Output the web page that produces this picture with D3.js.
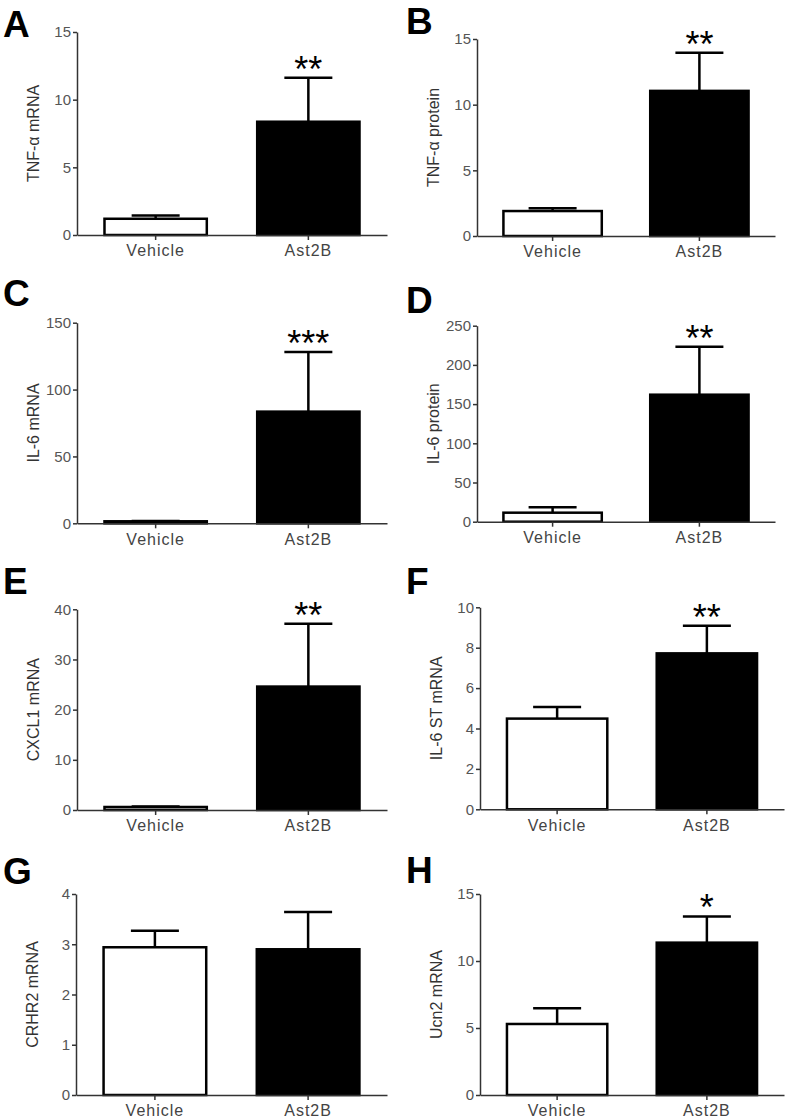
<!DOCTYPE html>
<html>
<head>
<meta charset="utf-8">
<script src="https://cdn.jsdelivr.net/npm/d3@7"></script>
<style>
  html, body { margin: 0; padding: 0; background: #fff; }
  svg { display: block; }
</style>
</head>
<body>
<svg id="chart" width="788" height="1119"></svg>
<script>
// ---- Data ----
const panelLetters = ["A", "B", "C", "D", "E", "F", "G", "H"];
const groups = ["Vehicle", "Ast2B"];
const yLabels = ["TNF-\u03B1 mRNA", "TNF-\u03B1 protein", "IL-6 mRNA", "IL-6 protein",
                 "CXCL1 mRNA", "IL-6 ST mRNA", "CRHR2 mRNA", "Ucn2 mRNA"];
const vehicleMean = [1.2, 1.9, 1.5, 11.5, 0.6, 4.49, 2.94, 5.3];
const vehicleErr  = [0.25, 0.22, 0.3, 7.0, 0.1, 0.58, 0.33, 1.17];
const ast2bMean   = [8.37, 11.05, 83.5, 162, 24.6, 7.72, 2.9, 11.37];
const ast2bErr    = [3.25, 2.9, 44.5, 61, 12.5, 1.37, 0.74, 1.96];
const yMax        = [15, 15, 150, 250, 40, 10, 4, 15];
const yTickStep   = [5, 5, 50, 50, 10, 2, 1, 5];
const stars       = ["**", "**", "***", "**", "**", "**", "", "*"];

// ---- Layout (positions only) ----
const layout = [
  {x0: 77,  x1: 387, top: 32,    bottom: 235,   lx: 3,   ly: 37},
  {x0: 477, x1: 775, top: 39,    bottom: 236,   lx: 406, ly: 34},
  {x0: 77,  x1: 387, top: 322.7, bottom: 523.3, lx: 3,   ly: 306},
  {x0: 477, x1: 775, top: 325.7, bottom: 521.7, lx: 406, ly: 313},
  {x0: 77,  x1: 387, top: 609.3, bottom: 810,   lx: 3,   ly: 594},
  {x0: 480, x1: 784, top: 607.3, bottom: 809.3, lx: 406, ly: 594},
  {x0: 76,  x1: 387, top: 894,   bottom: 1095,  lx: 3,   ly: 884},
  {x0: 480, x1: 784, top: 894,   bottom: 1095,  lx: 406, ly: 883}
];

const svg = d3.select("#chart");
const FONT = "'Liberation Sans', Arial, Helvetica, sans-serif";

panelLetters.forEach((letter, i) => {
  const L = layout[i];
  const g = svg.append("g");

  const x = d3.scaleBand().domain(groups).range([L.x0, L.x1])
    .paddingInner(0.33).paddingOuter(0.18);
  const y = d3.scaleLinear().domain([0, yMax[i]]).range([L.bottom, L.top]);

  const means = [vehicleMean[i], ast2bMean[i]];
  const errs = [vehicleErr[i], ast2bErr[i]];
  const data = groups.map((gname, k) => ({g: gname, m: means[k], e: errs[k], k}));

  // panel letter
  g.append("text")
    .attr("x", L.lx).attr("y", L.ly)
    .attr("font-family", FONT).attr("font-weight", "bold")
    .attr("font-size", 37).attr("fill", "#000")
    .text(letter);

  // error bars (upward only)
  const capW = 48;
  data.forEach(d => {
    const cx = x(d.g) + x.bandwidth() / 2;
    g.append("line")
      .attr("x1", cx).attr("x2", cx)
      .attr("y1", y(d.m)).attr("y2", y(d.m + d.e))
      .attr("stroke", "#000").attr("stroke-width", 2.5);
    g.append("line")
      .attr("x1", cx - capW / 2).attr("x2", cx + capW / 2)
      .attr("y1", y(d.m + d.e)).attr("y2", y(d.m + d.e))
      .attr("stroke", "#000").attr("stroke-width", 2.5);
  });

  // bars
  g.selectAll("rect.bar").data(data).join("rect")
    .attr("class", "bar")
    .attr("x", d => x(d.g))
    .attr("width", x.bandwidth())
    .attr("y", d => y(d.m))
    .attr("height", d => y(0) - y(d.m))
    .attr("fill", d => d.k === 0 ? "#fff" : "#000")
    .attr("stroke", "#000")
    .attr("stroke-width", 2.5);

  // axes
  const ticks = d3.range(0, yMax[i] + yTickStep[i] / 2, yTickStep[i]);
  const yAxis = d3.axisLeft(y).tickValues(ticks).tickFormat(d3.format("d"))
    .tickSizeInner(4).tickSizeOuter(0).tickPadding(2);
  const gy = g.append("g").attr("transform", `translate(${L.x0},0)`).call(yAxis);
  gy.selectAll("path, line").attr("stroke", "#333").attr("stroke-width", 1.5);
  gy.selectAll("text").attr("font-family", FONT).attr("font-size", 15).attr("fill", "#555");

  const xAxis = d3.axisBottom(x).tickSizeInner(5).tickSizeOuter(0).tickPadding(5);
  const gx = g.append("g").attr("transform", `translate(0,${L.bottom})`).call(xAxis);
  gx.selectAll("path, line").attr("stroke", "#333").attr("stroke-width", 1.5);
  gx.selectAll("text").attr("font-family", FONT).attr("font-size", 16)
    .attr("letter-spacing", 1).attr("fill", "#444");

  // y label
  const cy = (L.top + L.bottom) / 2;
  const lxp = L.x0 - 44;
  g.append("text")
    .attr("transform", `translate(${lxp},${cy}) rotate(-90)`)
    .attr("text-anchor", "middle")
    .attr("dominant-baseline", "central")
    .attr("font-family", FONT).attr("font-size", 16).attr("fill", "#333")
    .text(yLabels[i]);

  // significance stars
  if (stars[i]) {
    const cx = x("Ast2B") + x.bandwidth() / 2;
    g.append("text")
      .attr("x", cx).attr("y", y(ast2bMean[i] + ast2bErr[i]) + 4)
      .attr("text-anchor", "middle")
      .attr("font-family", FONT).attr("font-size", 36).attr("fill", "#000")
      .text(stars[i]);
  }
});
</script>
</body>
</html>
